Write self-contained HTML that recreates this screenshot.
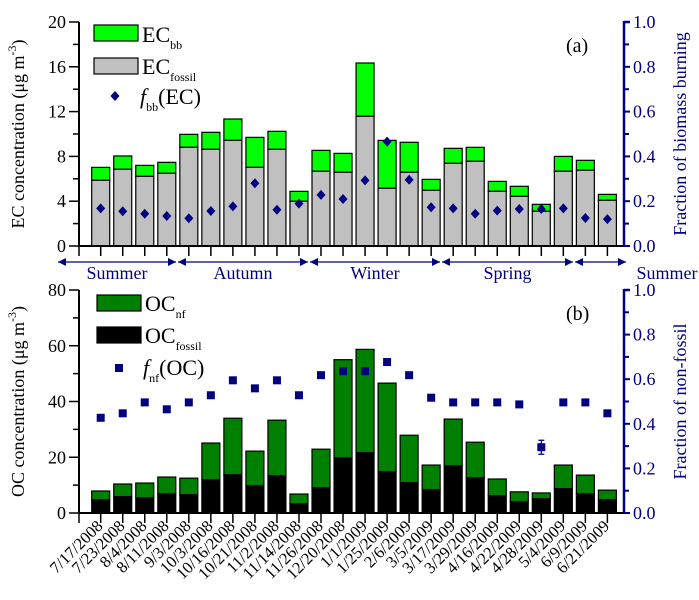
<!DOCTYPE html>
<html><head><meta charset="utf-8"><style>
html,body{margin:0;padding:0;background:#fff;}
svg{display:block;font-family:"Liberation Serif",serif;}
</style></head><body>
<svg id="c" width="699" height="600" viewBox="0 0 699 600"></svg>
<script>
const dates=["7/17/2008","7/23/2008","8/4/2008","8/11/2008","9/3/2008","10/3/2008","10/16/2008","10/21/2008","11/2/2008","11/14/2008","11/26/2008","12/20/2008","1/1/2009","1/25/2009","2/6/2009","3/5/2009","3/17/2009","3/29/2009","4/16/2009","4/22/2009","4/28/2009","5/4/2009","6/9/2009","6/21/2009"];
const ecTotal=[7.02,8.04,7.2,7.47,9.97,10.15,11.34,9.7,10.24,4.88,8.54,8.27,16.34,9.43,9.26,5.95,8.72,8.81,5.77,5.33,3.72,8.0,7.65,4.61];
const ecFossil=[5.86,6.85,6.22,6.49,8.81,8.63,9.43,7.02,8.63,3.99,6.67,6.58,11.58,5.15,6.58,4.97,7.38,7.56,4.88,4.43,3.1,6.67,6.76,4.08];
const fbb=[0.168,0.155,0.144,0.134,0.124,0.156,0.177,0.28,0.162,0.189,0.228,0.21,0.293,0.466,0.296,0.173,0.168,0.144,0.158,0.165,0.165,0.168,0.125,0.12];
const ocTotal=[7.9,10.4,10.75,12.9,12.5,25.1,34.0,22.2,33.3,6.8,22.9,55.0,58.7,46.6,27.9,17.2,33.7,25.4,12.2,7.6,7.2,17.2,13.6,8.2];
const ocFossil=[4.8,5.85,5.5,6.9,6.6,11.9,13.7,9.8,13.4,3.3,9.1,19.8,21.6,14.8,10.9,8.4,17.0,12.7,6.2,4.1,5.1,8.7,6.9,4.8];
const fnf=[0.427,0.447,0.496,0.465,0.496,0.528,0.595,0.559,0.595,0.528,0.618,0.636,0.636,0.677,0.618,0.517,0.496,0.496,0.496,0.487,0.295,0.496,0.496,0.447];
const ecTicks=[0,4,8,12,16,20];
const ocTicks=[0,20,40,60,80];
const fracTicks=["0.0","0.2","0.4","0.6","0.8","1.0"];
const seasons=["Summer","Autumn","Winter","Spring","Summer"];

const NS="http://www.w3.org/2000/svg";
const svg=document.getElementById('c');
function mk(tag,attrs,parent){const e=document.createElementNS(NS,tag);for(const k in attrs)e.setAttribute(k,attrs[k]);(parent||svg).appendChild(e);return e;}
const NAVY="#000080";
const XL=79,XR=624,X0=100.7,DX=22.03,BW=18;
const xAt=i=>X0+i*DX;

function panel(p){
  const g=mk('g',{});
  
  
  const y=v=>p.yb-(v/p.max)*(p.yb-p.yt);
  const yf=f=>p.yb-f*(p.yb-p.yt);
  for(let i=0;i<p.tot.length;i++){
    const x=xAt(i)-BW/2;
    const r1=mk('rect',{x:x,y:y(p.tot[i]),width:BW,height:y(p.fos[i])-y(p.tot[i]),fill:p.c1,stroke:'#000','stroke-width':1.2},g);
    
    
    const r2=mk('rect',{x:x,y:y(p.fos[i]),width:BW,height:p.yb-y(p.fos[i]),fill:p.c2,stroke:'#000','stroke-width':1.2},g);
    
    
  }
  for(let i=0;i<p.frac.length;i++){
    const cx=xAt(i),cy=yf(p.frac[i]);
    let m;
    if(p.marker==='d') m=mk('polygon',{points:`${cx},${cy-5} ${cx+4.5},${cy} ${cx},${cy+5} ${cx-4.5},${cy}`,fill:NAVY},g);
    else m=mk('rect',{x:cx-4,y:cy-4,width:8,height:8,fill:NAVY},g);
    
    
  }
  mk('line',{x1:XL,y1:p.yt,x2:XL,y2:p.yb+1,stroke:'#000','stroke-width':2},g);
  mk('line',{x1:XL-1,y1:p.yb,x2:XR,y2:p.yb,stroke:'#000','stroke-width':2},g);
  const step=p.ticks[1]-p.ticks[0];
  for(let v=0;v<=p.max;v+=step/2){
    const major=Math.abs((v/step)-Math.round(v/step))<1e-6;
    mk('line',{x1:XL-(major?10:6),y1:y(v),x2:XL,y2:y(v),stroke:'#000','stroke-width':1.5},g);
  }
  p.ticks.forEach(v=>{
    const t=mk('text',{x:XL-13,y:y(v)+6,'text-anchor':'end','font-size':18},g);t.textContent=v;
    
    
  });
  for(let i=0;i<p.tot.length;i++) mk('line',{x1:xAt(i),y1:p.yb,x2:xAt(i),y2:p.yb+10,stroke:'#000','stroke-width':1.5},g);
  mk('line',{x1:XL,y1:p.yb,x2:XL,y2:p.yb+10,stroke:'#000','stroke-width':1.5},g);
  mk('line',{x1:XR,y1:p.yt-1,x2:XR,y2:p.yb+1,stroke:NAVY,'stroke-width':2.5},g);
  mk('line',{x1:XR,y1:p.yt,x2:XR+6,y2:p.yt,stroke:NAVY,'stroke-width':2.5},g);
  for(let k=0;k<=10;k++){
    const yy=yf(k/10);
    mk('line',{x1:XR,y1:yy,x2:XR+(k%2===0?6:5),y2:yy,stroke:NAVY,'stroke-width':2},g);
  }
  fracTicks.forEach((s,k)=>{
    const t=mk('text',{x:XR+9,y:yf(k*0.2)+6,'font-size':18,fill:NAVY},g);t.textContent=s;
    
    
  });
  const lt=mk('text',{transform:`translate(${24},${(p.yt+p.yb)/2}) rotate(-90)`,'text-anchor':'middle','font-size':18},g);
  lt.innerHTML=p.ltitle;
  
  
  const rt=mk('text',{transform:`translate(${686},${(p.yt+p.yb)/2}) rotate(-90)`,'text-anchor':'middle','font-size':18,fill:NAVY},g);
  rt.textContent=p.rtitle;
  
  
  const pl=mk('text',{x:566,y:p.yt+30,'font-size':20},g);pl.textContent=p.label;
  
  
  return {g,y,yf};
}

const A=panel({name:'panel-a-ec',yt:22,yb:246,max:20,tot:ecTotal,fos:ecFossil,frac:fbb,c1:'#00ff00',c2:'#c0c0c0',k1:'ec-bb',k2:'ec-fossil',k3:'fbb',marker:'d',ticks:ecTicks,
  ltitle:'EC concentration (μg m<tspan dy="-8" font-size="12">-3</tspan><tspan dy="8">)</tspan>',rtitle:'Fraction of biomass burning',label:'(a)'});
const B=panel({name:'panel-b-oc',yt:290,yb:513,max:80,tot:ocTotal,fos:ocFossil,frac:fnf,c1:'#008000',c2:'#000000',k1:'oc-nf',k2:'oc-fossil',k3:'fnf',marker:'s',ticks:ocTicks,
  ltitle:'OC concentration (μg m<tspan dy="-8" font-size="12">-3</tspan><tspan dy="8">)</tspan>',rtitle:'Fraction of non-fossil',label:'(b)'});
{const cx=xAt(20),cy=B.yf(fnf[20]);mk('path',{d:`M${cx-3},${cy-7}H${cx+3}M${cx},${cy-7}V${cy+7}M${cx-3},${cy+7}H${cx+3}`,stroke:NAVY,'stroke-width':1.2,fill:'none'});}

function legRect(x,y,fill,name){const r=mk('rect',{x:x,y:y,width:44,height:16,fill:fill,stroke:'#000','stroke-width':1.2});}
function legText(x,y,html,name){const t=mk('text',{x:x,y:y,'font-size':22});t.innerHTML=html;}
legRect(94,25,'#00ff00','legend-ec-bb-swatch');
legText(142,42,'EC<tspan dy="7" font-size="12">bb</tspan>','legend-ec-bb');
legRect(94,58,'#c0c0c0','legend-ec-fossil-swatch');
legText(142,74,'EC<tspan dy="7" font-size="12">fossil</tspan>','legend-ec-fossil');
mk('polygon',{points:'115,91 119.5,96 115,101 110.5,96',fill:NAVY});
legText(140,104,'<tspan font-style="italic">f</tspan><tspan dy="7" font-size="12">bb</tspan><tspan dy="-7">(EC)</tspan>','legend-fbb');
legRect(97,295,'#008000','legend-oc-nf-swatch');
legText(145,311,'OC<tspan dy="7" font-size="12">nf</tspan>','legend-oc-nf');
legRect(97,327,'#000000','legend-oc-fossil-swatch');
legText(145,343,'OC<tspan dy="7" font-size="12">fossil</tspan>','legend-oc-fossil');
mk('rect',{x:115,y:364,width:8,height:8,fill:NAVY});
legText(143,375,'<tspan font-style="italic">f</tspan><tspan dy="7" font-size="12">nf</tspan><tspan dy="-7">(OC)</tspan>','legend-fnf');

const sx=[57,177,309,441,574,627];
for(let s=0;s<seasons.length;s++){
  const a=sx[s]+1,b=sx[s+1]-1,yy=262;
  mk('line',{x1:a,y1:yy,x2:b,y2:yy,stroke:NAVY,'stroke-width':1.2});
  mk('polygon',{points:`${a},${yy} ${a+8},${yy-4} ${a+8},${yy+4}`,fill:NAVY});
  mk('polygon',{points:`${b},${yy} ${b-8},${yy-4} ${b-8},${yy+4}`,fill:NAVY});
  const cx=s===4?667:(sx[s]+sx[s+1])/2;
  const t=mk('text',{x:cx,y:279,'text-anchor':'middle','font-size':18,fill:NAVY});
  t.textContent=seasons[s];
  
  
}
dates.forEach((d,i)=>{
  const x=xAt(i)+3,y=527;
  const t=mk('text',{x:x,y:y,'text-anchor':'end','font-size':16.5,transform:`rotate(-45 ${x} ${y})`});
  t.textContent=d;
  
  
});
</script>
</body></html>
